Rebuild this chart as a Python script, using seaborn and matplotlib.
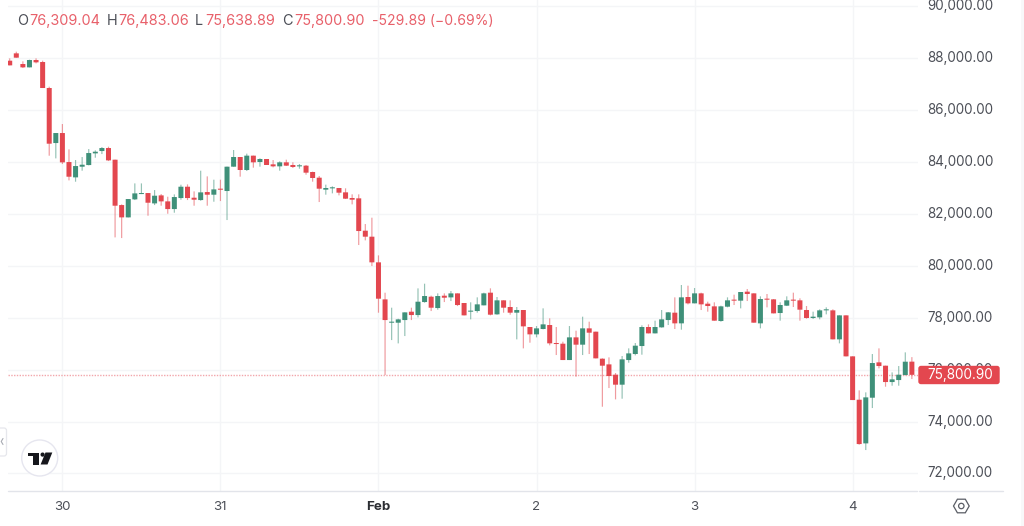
import matplotlib
matplotlib.use("Agg")
import matplotlib.pyplot as plt
from matplotlib.patches import Circle, FancyBboxPatch, Polygon, Rectangle
import numpy as np
import pandas as pd
import seaborn as sns

# Hourly BTC candles, 29 Jan 16:00 to 4 Feb
opens = [87908, 88191, 87780, 87651, 87934, 87857, 86855, 84734, 85120, 84002,
         83411, 83822, 83886, 84336, 84426, 84542, 84092, 82344, 81869, 82563,
         82768, 82807, 82408, 82717, 82486, 82190, 82614, 83051, 82627, 82537,
         82845, 82743, 82961, 82885, 83823, 84196, 83695, 84248, 84003, 84119,
         83913, 83836, 83991, 83888, 83836, 83862, 83618, 83399, 82937, 82988,
         83001, 82834, 82616, 82603, 81356, 81125, 80136, 78709, 77810, 77810,
         77912, 78234, 78105, 78606, 78812, 78375, 78851, 78786, 78940, 78569,
         78235, 78260, 78479, 78967, 78132, 78672, 78415, 78196, 78299, 77644,
         77361, 77567, 77721, 77014, 77001, 76371, 77245, 76963, 77592, 77464,
         76423, 76204, 75806, 75421, 76371, 76603, 76911, 77644, 77399, 77631,
         77913, 78196, 77785, 78800, 78556, 78941, 78543, 78440, 77875, 78427,
         78684, 78659, 79006, 78941, 77785, 78723, 78710, 78183, 78466, 78684,
         78672, 78299, 77991, 78016, 78286, 78286, 77168, 78093, 76513, 74842,
         73159, 74919, 76282, 76153, 75523, 75600, 75793, 76309.04]
highs = [87998, 88255, 87883, 87947, 87998, 87908, 86906, 85120, 85467, 84490,
         84079, 84195, 84503, 84452, 84580, 84593, 84092, 82370, 82576, 83179,
         83179, 82807, 82922, 82768, 82665, 82755, 83128, 83141, 82871, 83668,
         83449, 83321, 83321, 83823, 84466, 84196, 84325, 84248, 84145, 84119,
         84080, 84029, 84093, 83991, 83926, 83888, 83631, 83464, 83130, 83065,
         83001, 82988, 82757, 82757, 81613, 81857, 80405, 78966, 78388, 77964,
         78208, 78388, 79133, 79313, 78851, 78940, 78940, 79030, 78940, 78569,
         78595, 78787, 78967, 79134, 78800, 78672, 78672, 78415, 78299, 77644,
         77682, 78363, 77978, 77644, 77078, 77682, 77502, 78042, 77849, 77464,
         76436, 76474, 75870, 76526, 76821, 77027, 77708, 77746, 77888, 78299,
         78222, 78787, 79263, 79237, 79147, 78967, 78620, 78595, 78466, 78787,
         78890, 78993, 79109, 78941, 78826, 78916, 78723, 78595, 78826, 78967,
         78749, 78453, 78235, 78325, 78402, 78325, 78093, 78093, 76513, 75202,
         75125, 76603, 76821, 76153, 75896, 76140, 76667, 76483.06]
lows = [87728, 88024, 87626, 87651, 87805, 86855, 84246, 84143, 83925, 83295,
        83244, 83668, 83873, 84169, 84310, 84040, 81098, 81072, 81869, 82537,
        82768, 81933, 82344, 82319, 82010, 82049, 82550, 82537, 82319, 82511,
        82319, 82473, 82498, 81767, 83823, 83438, 83656, 83785, 83823, 83888,
        83798, 83669, 83849, 83772, 83746, 83515, 83245, 82461, 82744, 82795,
        82718, 82577, 82371, 80804, 80984, 79994, 78195, 75792, 77141, 77013,
        77296, 77912, 78015, 78581, 78259, 78311, 78606, 78645, 78452, 78093,
        77939, 78196, 78479, 78093, 78119, 78196, 78119, 77168, 76821, 77040,
        77245, 77554, 76937, 76564, 76371, 76371, 75729, 76564, 76603, 76436,
        74572, 75292, 74855, 74881, 76269, 76551, 76577, 77399, 77399, 77618,
        77721, 77567, 77541, 78517, 78556, 78299, 78235, 77888, 77849, 78402,
        78492, 78363, 78646, 77811, 77592, 78402, 78170, 77888, 78453, 78415,
        77888, 77965, 77952, 77939, 78132, 77168, 77014, 76513, 74829, 73108,
        72902, 74521, 76050, 75343, 75382, 75382, 75780, 75638.89]
closes = [87728, 88024, 87651, 87934, 87844, 86855, 84709, 85120, 83989, 83436,
          83848, 83899, 84349, 84400, 84542, 84066, 82319, 81869, 82576, 82794,
          82807, 82434, 82704, 82486, 82190, 82653, 83051, 82614, 82550, 82833,
          82743, 82948, 82935, 83823, 84196, 83695, 84248, 83991, 84119, 83888,
          83836, 83991, 83862, 83811, 83862, 83592, 83387, 82975, 83001, 83014,
          82821, 82590, 82551, 81343, 81125, 80136, 78735, 77912, 77835, 77938,
          78208, 78105, 78619, 78838, 78388, 78838, 78773, 78940, 78491, 78093,
          78260, 78517, 78941, 78119, 78672, 78389, 78196, 78299, 77669, 77361,
          77592, 77746, 77014, 76988, 76371, 77245, 76963, 77592, 77425, 76436,
          76153, 75755, 75421, 76397, 76628, 76924, 77644, 77399, 77644, 77939,
          78209, 77785, 78787, 78556, 78941, 78517, 78453, 77888, 78440, 78672,
          78659, 78993, 78916, 77811, 78723, 78697, 78170, 78492, 78672, 78659,
          78312, 77991, 78042, 78286, 78312, 77168, 78093, 76513, 74829, 73133,
          74932, 76256, 76140, 75523, 75626, 75806, 76307, 75800.90]

price_ticks = [72000, 74000, 76000, 78000, 80000, 82000, 84000, 86000, 88000, 90000]
day_slots = [8, 32, 56, 80, 104, 128]
day_labels = ["30", "31", "Feb", "2", "3", "4"]
change = -529.89
change_pct = -0.69

UP = "#3f9079"
DOWN = "#e3474f"
GRID = "#f4f5f7"
AXIS_LINE = "#e2e4ea"
LABEL = "#4c4f57"
HEADER_RED = "#e8606a"

sns.set_theme(style="white")
plt.rcParams["font.family"] = ["Inter", "DejaVu Sans"]

W, H = 1024, 526
fig = plt.figure(figsize=(W / 100, H / 100), dpi=100, facecolor="white")
ax = fig.add_axes([8 / W, 1 - 490.5 / H, 910 / W, 490.5 / H])

candles = pd.DataFrame({"open": opens, "high": highs, "low": lows, "close": closes})
candles["slot"] = np.arange(len(candles))
candles["rising"] = candles["close"] >= candles["open"]
candles["bottom"] = candles[["open", "close"]].min(axis=1)
candles["height"] = (candles["close"] - candles["open"]).abs().clip(lower=40)
palette = candles["rising"].map({True: UP, False: DOWN})

# grid first so the candles sit on top of it
for p in price_ticks:
    ax.axhline(p, color=GRID, lw=1.0, zorder=0)
for d in day_slots:
    ax.axvline(d, color=GRID, lw=1.0, zorder=0)

wicks = ax.vlines(candles["slot"], candles["low"], candles["high"], colors=palette,
                  linewidth=0.85, alpha=0.55, zorder=2)
wicks.set_snap(False)
bodies = ax.bar(candles["slot"], candles["height"], bottom=candles["bottom"], width=0.76,
                color=palette, linewidth=0, zorder=3)
# keep every body the same width instead of rounding to whole pixels
for body in bodies:
    body.set_snap(False)

ax.axhline(closes[-1], color="#f2a6ab", lw=1.0, ls=(0, (1, 1)), zorder=1)

ax.set_xlim(-0.26, 137.93)
ax.set_ylim(71343, 90247)
ax.set_xticks(day_slots)
ax.set_xticklabels(day_labels)
ax.tick_params(axis="x", length=0, pad=7.5, labelsize=9.6, labelcolor=LABEL)
ax.get_xticklabels()[2].set_fontweight("bold")
ax.get_xticklabels()[2].set_color("#2c2e33")
ax.yaxis.tick_right()
ax.set_yticks(price_ticks)
ax.set_yticklabels([f"{p:,.2f}" for p in price_ticks], va="center")
ax.tick_params(axis="y", length=0, pad=6.7, labelsize=9.65, labelcolor=LABEL)
sns.despine(ax=ax, left=True, right=True, top=True, bottom=True)

# page furniture laid out in pixel coordinates on a transparent overlay
ov = fig.add_axes([0, 0, 1, 1], facecolor="none")
ov.set_xlim(0, W)
ov.set_ylim(H, 0)
ov.axis("off")

ov.add_patch(Rectangle((1021, 0), 3, H, color="#f8f8f9", lw=0))
ov.plot([8, 917], [490.6, 490.6], color=AXIS_LINE, lw=1)
ov.plot([919, 1003], [490.6, 490.6], color=AXIS_LINE, lw=1)

# last price tag
ov.add_patch(FancyBboxPatch((919, 366.5), 80, 17, boxstyle="round,pad=0,rounding_size=2",
                            fc=DOWN, ec=DOWN, lw=1, zorder=5))
ov.text(960, 374.6, f"{closes[-1]:,.2f}", color="white", fontsize=9.8,
        ha="center", va="center", zorder=6)

# OHLC header
header = [(17, "O", LABEL), (29, f"{opens[-1]:,.2f}", HEADER_RED),
          (106.5, "H", LABEL), (118.5, f"{highs[-1]:,.2f}", HEADER_RED),
          (195, "L", LABEL), (205, f"{lows[-1]:,.2f}", HEADER_RED),
          (282.5, "C", LABEL), (294, f"{closes[-1]:,.2f}", HEADER_RED)]
for x, s, c in header:
    ov.text(x, 20.8, s, color=c, fontsize=10.4, ha="left", va="center")
ov.text(371.5, 20.8, f"{change:.2f} (\u2212{abs(change_pct):.2f}%)", color=HEADER_RED,
        fontsize=10.05, ha="left", va="center")

# round logo badge
ov.add_patch(Circle((39.7, 458), 18, fc="white", ec="#e6e6ef", lw=1))
ov.add_patch(Polygon([(28, 452.5), (39, 452.5), (39, 464.5), (33, 464.5),
                      (33, 456), (28, 456)], fc="#16171c", lw=0))
ov.add_patch(Circle((42.6, 454.6), 2.1, fc="#16171c", lw=0))
ov.add_patch(Polygon([(45.5, 452.5), (52.3, 452.5), (47.5, 464.5), (40.6, 464.5)],
                     fc="#16171c", lw=0))

# collapsed side tab
ov.add_patch(FancyBboxPatch((-4, 428), 10.5, 28, boxstyle="round,pad=0,rounding_size=2.5",
                            fc="white", ec="#e6e7ec", lw=0.9))
ov.plot([3, 1.2, 3], [438.5, 441.5, 444.5], color="#a8abb3", lw=0.8)

# settings hexagon
ov.add_patch(Polygon([(953.5, 506), (957.4, 499.2), (965.3, 499.2), (969.2, 506),
                      (965.3, 512.8), (957.4, 512.8)], closed=True, fc="none",
                     ec="#5a5d65", lw=0.9))
ov.add_patch(Circle((961.3, 506), 2.7, fc="none", ec="#5a5d65", lw=0.9))

fig.savefig("out.png", dpi=100, facecolor="white")
